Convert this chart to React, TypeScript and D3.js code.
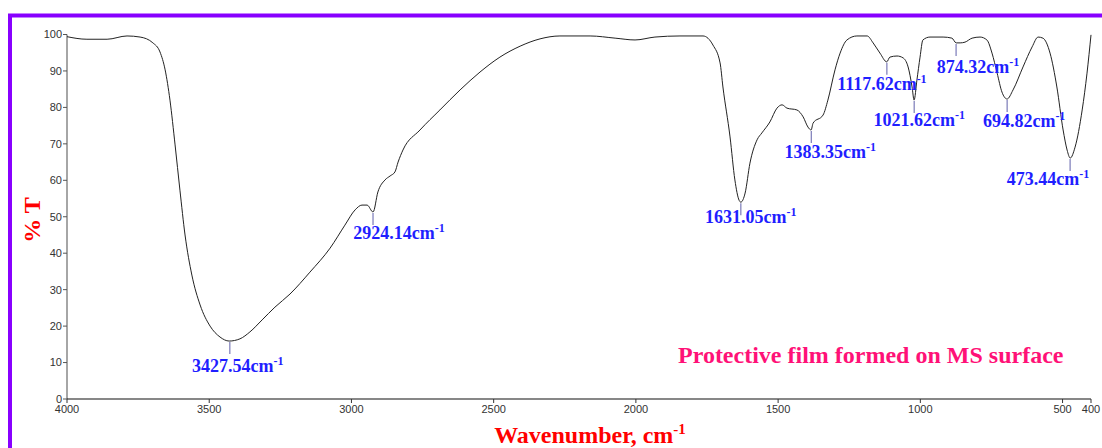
import React from 'react';
import * as d3 from 'd3';

// FTIR spectrum: wavenumber (cm-1) vs transmittance (%)
const wavenumbers = [
  4000, 3930, 3859, 3789, 3743, 3698, 3673, 3655, 3638, 3620, 3603, 3585, 3561, 3532, 3497, 3462,
  3430, 3392, 3357, 3314, 3269, 3216, 3146, 3075, 3023, 2987, 2963, 2945, 2924, 2907, 2882, 2864,
  2847, 2836, 2819, 2759, 2689, 2618, 2548, 2478, 2407, 2337, 2267, 2161, 2073, 2003, 1933, 1845,
  1764, 1729, 1704, 1694, 1669, 1652, 1637, 1631, 1616, 1599, 1574, 1557, 1529, 1504, 1486, 1469,
  1434, 1412, 1395, 1384, 1377, 1342, 1325, 1300, 1282, 1258, 1223, 1187, 1166, 1142, 1118, 1107,
  1082, 1061, 1043, 1029, 1022, 1012, 1001, 991, 966, 920, 889, 874, 860, 843, 818, 790,
  766, 748, 730, 713, 695, 674, 639, 607, 586, 569, 544, 520, 498, 484, 473, 456,
  431, 414, 400,
];
const transmittance = [
  99.4, 98.7, 98.7, 99.6, 99.3, 97.7, 95.2, 90.3, 82.0, 69.7, 57.3, 45.0, 34.0, 25.8, 20.0, 17.0,
  15.9, 16.5, 18.4, 21.7, 25.2, 28.8, 34.8, 41.4, 47.7, 51.9, 53.2, 53.2, 51.3, 56.8, 60.1, 61.2,
  62.3, 65.0, 68.3, 73.8, 79.3, 84.8, 89.7, 93.8, 96.8, 98.8, 99.6, 99.6, 99.0, 98.5, 99.3, 99.6,
  99.6, 97.1, 92.2, 85.6, 71.9, 60.1, 54.5, 54.0, 56.5, 64.7, 71.1, 73.0, 76.0, 79.8, 80.7, 79.8,
  79.3, 77.4, 74.6, 73.8, 75.7, 77.9, 82.0, 90.3, 94.9, 98.5, 99.6, 99.6, 97.7, 94.9, 92.5, 93.8,
  94.1, 93.6, 91.1, 85.6, 82.0, 87.5, 93.8, 98.5, 99.3, 99.3, 99.0, 97.7, 97.7, 97.9, 99.0, 99.3,
  98.5, 94.9, 89.4, 84.2, 82.3, 84.8, 91.1, 96.6, 99.3, 99.0, 94.9, 85.6, 73.8, 68.3, 66.1, 69.1,
  79.3, 89.4, 99.9,
];

const peakWavenumbers = [3427.54, 2924.14, 1631.05, 1383.35, 1117.62, 1021.62, 874.32, 694.82, 473.44];
const peakTransmittance = [15.9, 51.3, 54.0, 73.8, 92.5, 82.0, 97.7, 82.3, 66.1];

const xTicks = [4000, 3500, 3000, 2500, 2000, 1500, 1000, 500, 400];
const yTicks = [0, 10, 20, 30, 40, 50, 60, 70, 80, 90, 100];

// label placement relative to each peak marker: [dx, dy to baseline]
const labelOffsets = [
  [8, 31], [26, 27], [10, 21], [19, 28], [-5, 28], [5, 26], [22, 30], [17, 28], [-22, 27],
];

const serif = '"Liberation Serif", "Times New Roman", serif';
const sans = '"Liberation Sans", Arial, sans-serif';

export default function App() {
  const width = 1102;
  const height = 448;

  const x = d3.scaleLinear().domain([4000, 400]).range([67, 1091]);
  const y = d3.scaleLinear().domain([0, 100]).range([399, 34.5]);

  const pts: [number, number][] = wavenumbers.map((w, i) => [w, transmittance[i]]);
  const line = d3
    .line<[number, number]>()
    .x(d => x(d[0]))
    .y(d => y(d[1]))
    .curve(d3.curveMonotoneX);

  return (
    <svg
      width={width}
      height={height}
      style={{ position: 'absolute', left: 0, top: 0, background: '#fff' }}
    >
      {/* purple frame */}
      <path d="M10,448 V15.5 H1102" fill="none" stroke="#8800ff" strokeWidth={4} />

      {/* y axis */}
      <line x1={x(4000)} x2={x(4000)} y1={y(100)} y2={y(0)} stroke="#888" strokeWidth={1.5} />
      {yTicks.map(t => (
        <g key={t} transform={`translate(${x(4000)},${y(t)})`}>
          <line x1={-4} x2={0} stroke="#555" />
          <text x={-5} dy="0.35em" textAnchor="end" fontFamily={sans} fontSize={11} fill="#333">
            {t}
          </text>
        </g>
      ))}

      {/* x axis */}
      <line x1={x(4000)} x2={x(400)} y1={y(0)} y2={y(0)} stroke="#111" strokeWidth={1.2} />
      {xTicks.map(t => (
        <g key={t} transform={`translate(${x(t)},${y(0)})`}>
          <line y1={0} y2={4} stroke="#333" />
          <text y={14} textAnchor="middle" fontFamily={sans} fontSize={11} fill="#333">
            {t}
          </text>
        </g>
      ))}

      {/* spectrum */}
      <path d={line(pts) || ''} fill="none" stroke="#222" strokeWidth={1} />

      {/* peak markers and labels */}
      {peakWavenumbers.map((w, i) => {
        const px = x(w);
        const py = y(peakTransmittance[i]);
        const [dx, dy] = labelOffsets[i];
        return (
          <g key={w}>
            <line x1={px} x2={px} y1={py + 1} y2={py + 13} stroke="#7a7ab8" strokeWidth={1.2} />
            <text
              x={px + dx}
              y={py + dy}
              textAnchor="middle"
              fontFamily={serif}
              fontWeight="bold"
              fontSize={18}
              fill="#1f1fff"
            >
              {w.toFixed(2)}cm
              <tspan fontSize={12} dy={-7}>-1</tspan>
            </text>
          </g>
        );
      })}

      {/* annotation */}
      <text x={678} y={363} fontFamily={serif} fontWeight="bold" fontSize={24} fill="#ff1177">
        Protective film formed on MS surface
      </text>

      {/* axis titles */}
      <text
        x={590}
        y={443}
        textAnchor="middle"
        fontFamily={serif}
        fontWeight="bold"
        fontSize={24}
        fill="#ff0000"
      >
        Wavenumber, cm
        <tspan fontSize={15} dy={-9}>-1</tspan>
      </text>
      <text
        transform="translate(40,220) rotate(-90)"
        textAnchor="middle"
        fontFamily={serif}
        fontWeight="bold"
        fontSize={24}
        fill="#ff0000"
      >
        % T
      </text>
    </svg>
  );
}
